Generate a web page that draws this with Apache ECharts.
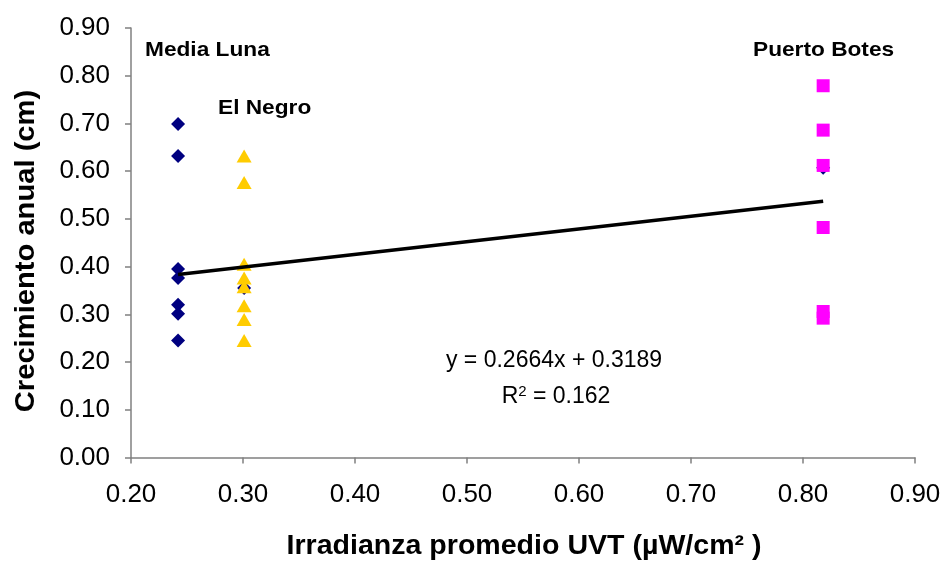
<!DOCTYPE html>
<html>
<head>
<meta charset="utf-8">
<script src="https://cdn.jsdelivr.net/npm/echarts@6/dist/echarts.min.js"></script>
<style>html,body{margin:0;padding:0;background:#fff}#c{width:947px;height:563px}</style>
</head>
<body>
<div id="c"></div>
<script>
// Media Luna (diamonds)
const mediaLunaX = [0.242, 0.242, 0.242, 0.242, 0.242, 0.242, 0.242, 0.301, 0.818];
const mediaLunaY = [0.699, 0.632, 0.395, 0.376, 0.320, 0.301, 0.245, 0.355, 0.607];
// El Negro (triangles)
const elNegroX = [0.301, 0.301, 0.301, 0.301, 0.301, 0.301, 0.301, 0.301];
const elNegroY = [0.632, 0.576, 0.405, 0.376, 0.358, 0.318, 0.289, 0.245];
// Puerto Botes (squares)
const puertoX = [0.818, 0.818, 0.818, 0.818, 0.818, 0.818];
const puertoY = [0.779, 0.686, 0.612, 0.482, 0.306, 0.292];
// Linear trendline from the chart
const trendSlope = 0.2664;
const trendIntercept = 0.3189;
const trendR2 = 0.162;
const trendXs = [0.242, 0.818];
// axis ticks
const xTicks = [0.20, 0.30, 0.40, 0.50, 0.60, 0.70, 0.80, 0.90];
const yTicks = [0.00, 0.10, 0.20, 0.30, 0.40, 0.50, 0.60, 0.70, 0.80, 0.90];
const groupLabels = ['Media Luna', 'El Negro', 'Puerto Botes'];
const xTitle = 'Irradianza promedio UVT (µW/cm² )';
const yTitle = 'Crecimiento anual (cm)';

const zip = (xs, ys) => xs.map((x, i) => [x, ys[i]]);
const trendData = trendXs.map(x => [x, trendSlope * x + trendIntercept]);

const FONT = 'Liberation Sans, Arial, sans-serif';
const chart = echarts.init(document.getElementById('c'), null, {renderer: 'canvas'});
const axisCommon = {
  axisLine: {show: true, onZero: false, lineStyle: {color: '#808080', width: 1.5}},
  axisTick: {show: true, inside: false, length: 6, lineStyle: {color: '#808080', width: 1.5}},
  splitLine: {show: false}
};
chart.setOption({
  animation: false,
  backgroundColor: '#fff',
  grid: {left: 131, right: 32, top: 28, bottom: 105.5, containLabel: false},
  xAxis: Object.assign({}, axisCommon, {
    type: 'value', min: xTicks[0], max: xTicks[xTicks.length - 1], interval: 0.1,
    axisLabel: {fontFamily: FONT, fontSize: 26, color: '#000', margin: 24,
      formatter: v => v.toFixed(2)}
  }),
  yAxis: Object.assign({}, axisCommon, {
    type: 'value', min: yTicks[0], max: yTicks[yTicks.length - 1], interval: 0.1,
    axisLabel: {fontFamily: FONT, fontSize: 26, color: '#000', margin: 21,
      formatter: v => v.toFixed(2)}
  }),
  series: [
    {type: 'scatter', name: groupLabels[0], data: zip(mediaLunaX, mediaLunaY),
      symbol: 'diamond', symbolSize: 14, itemStyle: {color: '#000080', opacity: 1}, z: 2},
    {type: 'scatter', name: groupLabels[1], data: zip(elNegroX, elNegroY),
      symbol: 'triangle', symbolSize: [15, 13], itemStyle: {color: '#FFCC00', opacity: 1}, z: 3},
    {type: 'scatter', name: groupLabels[2], data: zip(puertoX, puertoY),
      symbol: 'rect', symbolSize: 13, itemStyle: {color: '#FF00FF', opacity: 1}, z: 4},
    {type: 'line', name: 'trend', data: trendData, showSymbol: false, symbol: 'none',
      lineStyle: {color: '#000', width: 3.5}, z: 5}
  ],
  graphic: [
    {type: 'text', left: 145, top: 40, scaleX: 1.08, style: {text: groupLabels[0], fontFamily: FONT, fontWeight: 'bold', fontSize: 21, fill: '#000'}},
    {type: 'text', left: 218, top: 98, scaleX: 1.08, style: {text: groupLabels[1], fontFamily: FONT, fontWeight: 'bold', fontSize: 21, fill: '#000'}},
    {type: 'text', left: 753, top: 40, scaleX: 1.08, style: {text: groupLabels[2], fontFamily: FONT, fontWeight: 'bold', fontSize: 21, fill: '#000'}},
    {type: 'text', x: 554, y: 361, style: {text: 'y = ' + trendSlope + 'x + ' + trendIntercept, fontFamily: FONT, fontSize: 23, fill: '#000', align: 'center', verticalAlign: 'middle'}},
    {type: 'text', x: 556, y: 397, style: {text: 'R{sup|2} = ' + trendR2, fontFamily: FONT, fontSize: 23, fill: '#000', align: 'center', verticalAlign: 'middle',
      rich: {sup: {fontFamily: FONT, fontSize: 15, verticalAlign: 'top', padding: [0, 0, 10, 0]}}}},
    {type: 'text', x: 524, y: 546, scaleX: 1.02, style: {text: xTitle, fontFamily: FONT, fontWeight: 'bold', fontSize: 28, fill: '#000', align: 'center', verticalAlign: 'middle'}},
    {type: 'text', x: 27, y: 251, rotation: Math.PI / 2, scaleX: 1.08, style: {text: yTitle, fontFamily: FONT, fontWeight: 'bold', fontSize: 27, fill: '#000', align: 'center', verticalAlign: 'middle'}}
  ]
});
</script>
</body>
</html>
